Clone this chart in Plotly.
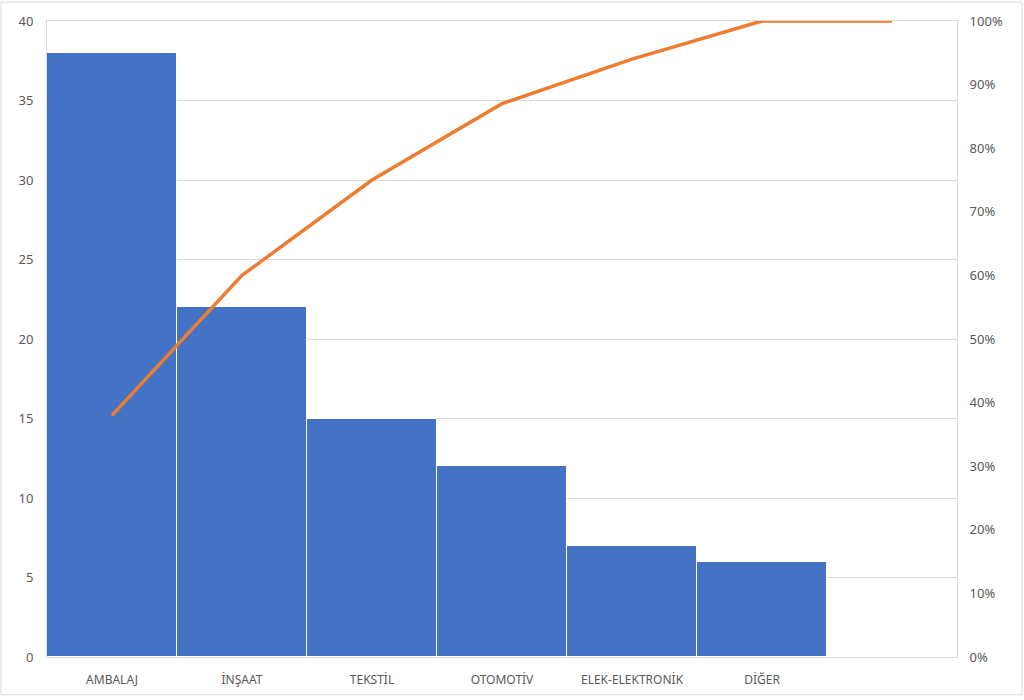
import plotly.graph_objects as go

categories = ["AMBALAJ", "İNŞAAT", "TEKSTİL", "OTOMOTİV", "ELEK-ELEKTRONİK", "DİĞER", ""]
counts = [38, 22, 15, 12, 7, 6]
cumulative_pct = [0.38, 0.60, 0.75, 0.87, 0.94, 1.00, 1.00]

positions = list(range(len(categories)))

fig = go.Figure()
fig.add_trace(go.Bar(
    x=positions[:len(counts)], y=counts,
    marker=dict(color="#4472C4", line=dict(color="white", width=1)),
    width=1.0, showlegend=False, hoverinfo="y",
))
fig.add_trace(go.Scatter(
    x=positions, y=cumulative_pct, yaxis="y2", mode="lines",
    line=dict(color="#ED7D31", width=3.5), showlegend=False,
))

font = dict(family="Noto Sans, Open Sans, sans-serif", size=12, color="#595959")

fig.update_layout(
    width=1024, height=700,
    margin=dict(l=47, r=67, t=20, b=40),
    paper_bgcolor="white", plot_bgcolor="white",
    bargap=0,
    font=font,
    xaxis=dict(
        range=[-0.5, len(categories) - 0.5],
        tickvals=positions, ticktext=categories,
        showgrid=False, zeroline=False,
        showline=True, linecolor="#D9D9D9", linewidth=1, mirror=True,
        ticks="outside", ticklen=12, tickcolor="rgba(0,0,0,0)",
        tickfont=font,
    ),
    yaxis=dict(
        range=[0, 40], dtick=5,
        showgrid=True, gridcolor="#D9D9D9", gridwidth=1,
        zeroline=False,
        showline=True, linecolor="#D9D9D9", linewidth=1, mirror=True,
        ticks="outside", ticklen=10, tickcolor="rgba(0,0,0,0)",
        tickfont=dict(family=font["family"], size=13, color="#595959"),
    ),
    yaxis2=dict(
        range=[0, 1], dtick=0.1, tickformat=".0%",
        overlaying="y", side="right",
        showgrid=False, zeroline=False, showline=False,
        ticks="outside", ticklen=9, tickcolor="rgba(0,0,0,0)",
        tickfont=dict(family=font["family"], size=13, color="#595959"),
    ),
    shapes=[dict(
        type="rect", xref="paper", yref="paper",
        x0=-0.0505, x1=1.0714, y0=-0.0594, y1=1.0297,
        line=dict(color="#D9D9D9", width=1), fillcolor="rgba(0,0,0,0)",
        layer="below",
    )],
)

fig.write_html(
    "out.html",
    config={"displayModeBar": False},
    post_script="document.body.style.margin='0';document.body.style.overflow='hidden';",
)
